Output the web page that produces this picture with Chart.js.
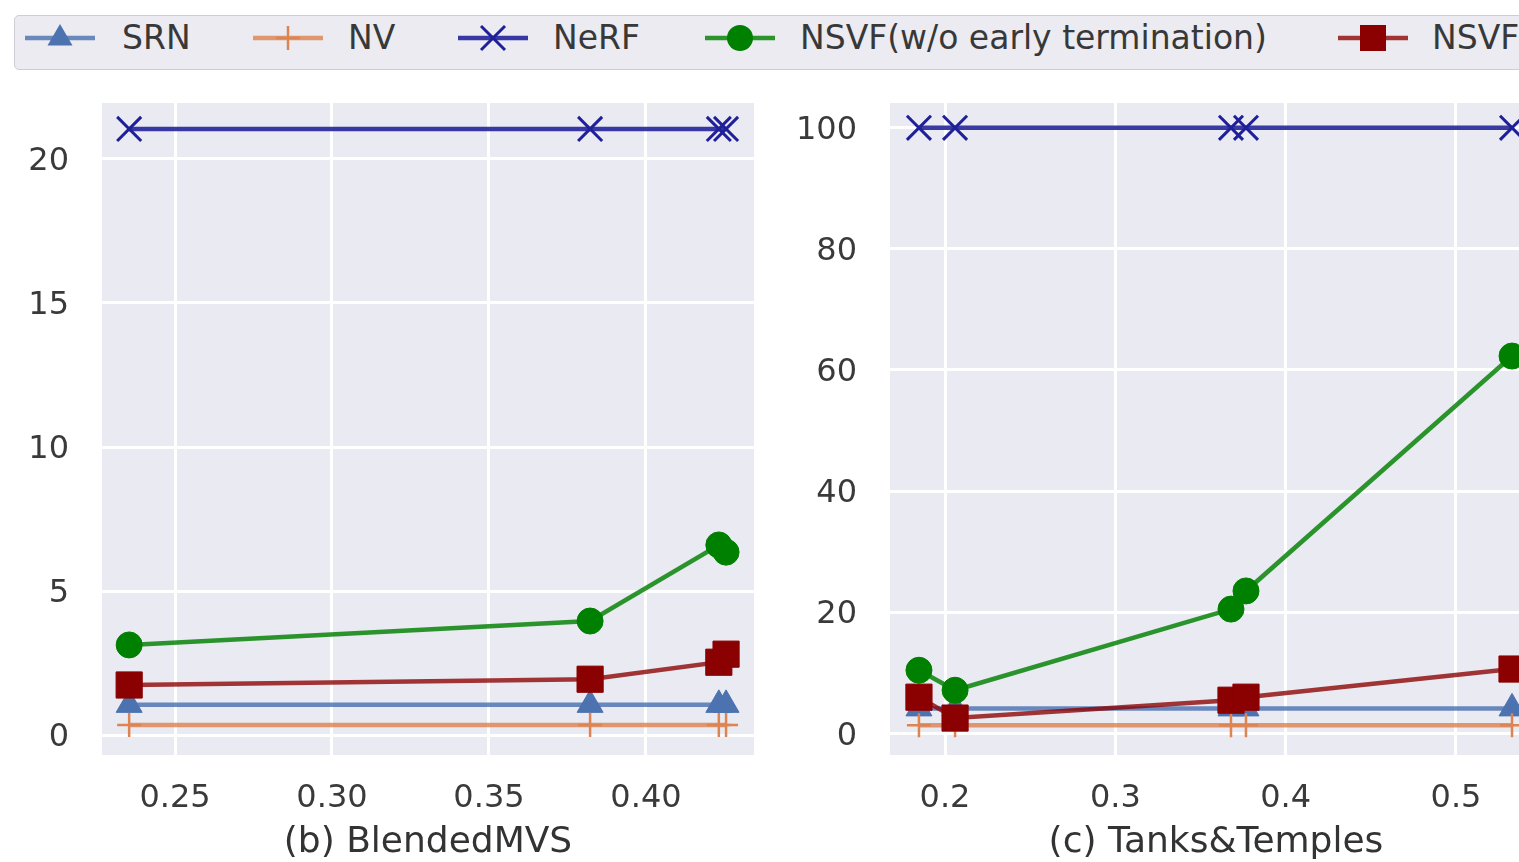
<!DOCTYPE html>
<html><head><meta charset="utf-8">
<script src="https://cdn.jsdelivr.net/npm/chart.js@4/dist/chart.umd.min.js"></script>
<style>
html,body{margin:0;padding:0;background:#fff;width:1519px;height:862px;overflow:hidden;position:relative;font-family:"DejaVu Sans",sans-serif;}
#legend{position:absolute;left:14px;top:15px;width:1560px;height:55px;background:#ebebf1;border:1.5px solid #cdcdd3;border-radius:5px;box-sizing:border-box;}
.sym{position:absolute;top:0;}
.lt{position:absolute;font-size:33px;color:#383838;line-height:44px;top:0;white-space:nowrap;}
canvas{position:absolute;}
#c1{left:0;top:80px;}
#c2{left:780px;top:80px;}
</style></head>
<body>
<div id="legend"></div>
<canvas id="c1" width="770" height="782"></canvas>
<canvas id="c2" width="780" height="782"></canvas>
<script>
// ---- data ----
const seriesNames = ["SRN", "NV", "NeRF", "NSVF(w/o early termination)", "NSVF"];

// (b) BlendedMVS
const blendedX = [0.2354, 0.3822, 0.4232, 0.4255];
const blendedSRN = [1.05, 1.05, 1.05, 1.05];
const blendedNV = [0.35, 0.35, 0.35, 0.35];
const blendedNeRF = [21.04, 21.04, 21.04, 21.04];
const blendedNSVFnoET = [3.13, 3.96, 6.6, 6.35];
const blendedNSVF = [1.74, 1.94, 2.53, 2.81];
const blendedXTicks = [0.25, 0.30, 0.35, 0.40];
const blendedYTicks = [0, 5, 10, 15, 20];

// (c) Tanks&Temples
const tanksX = [0.1847, 0.2059, 0.3679, 0.3767, 0.5329];
const tanksSRN = [4.1, 4.1, 4.1, 4.1, 4.1];
const tanksNV = [1.3, 1.3, 1.3, 1.3, 1.3];
const tanksNeRF = [100, 100, 100, 100, 100];
const tanksNSVFnoET = [10.4, 7.1, 20.5, 23.5, 62.3];
const tanksNSVF = [5.95, 2.5, 5.45, 5.95, 10.6];
const tanksXTicks = [0.2, 0.3, 0.4, 0.5];
const tanksYTicks = [0, 20, 40, 60, 80, 100];

// ---- styles ----
const styles = [
  {marker:'#4c72b0', line:'rgba(76,114,176,0.82)', point:'triangle', r:15, bw:1},
  {marker:'#dd8452', line:'rgba(221,132,82,0.82)', point:'cross', r:12, bw:2.5},
  {marker:'#1f1f99', line:'rgba(31,31,153,0.88)', point:'crossRot', r:17, bw:3},
  {marker:'#008000', line:'rgba(0,128,0,0.82)', point:'circle', r:13, bw:1},
  {marker:'#8b0000', line:'rgba(139,0,0,0.78)', point:'rect', r:18.5, bw:1}
];

// ---- legend ----
const legendLineX = [25, 253, 458, 705, 1338];
const legendTextX = [122, 348, 553, 800, 1432];
const lg = document.getElementById('legend');
function symSVG(i){
  const s = styles[i], c = s.marker, cx = 35, cy = 22;
  let m = '';
  if (i===0) m = `<polygon points="${cx},${cy-14} ${cx+12.5},${cy+7.5} ${cx-12.5},${cy+7.5}" fill="${c}"/>`;
  if (i===1) m = `<line x1="${cx-12}" y1="${cy}" x2="${cx+12}" y2="${cy}" stroke="${c}" stroke-width="2.5"/><line x1="${cx}" y1="${cy-12}" x2="${cx}" y2="${cy+12}" stroke="${c}" stroke-width="2.5"/>`;
  if (i===2) m = `<line x1="${cx-12}" y1="${cy-12}" x2="${cx+12}" y2="${cy+12}" stroke="${c}" stroke-width="3"/><line x1="${cx-12}" y1="${cy+12}" x2="${cx+12}" y2="${cy-12}" stroke="${c}" stroke-width="3"/>`;
  if (i===3) m = `<circle cx="${cx}" cy="${cy}" r="13" fill="${c}"/>`;
  if (i===4) m = `<rect x="${cx-13}" y="${cy-13}" width="26" height="26" fill="${c}"/>`;
  return `<svg width="70" height="50" style="overflow:visible"><line x1="0" y1="${cy}" x2="70" y2="${cy}" stroke="${s.line}" stroke-width="4.5"/>${m}</svg>`;
}
seriesNames.forEach((n,i)=>{
  const d = document.createElement('div'); d.className='sym';
  d.style.left = (legendLineX[i]-15)+'px'; d.style.top='-0.5px';
  d.innerHTML = symSVG(i); lg.appendChild(d);
  const t = document.createElement('div'); t.className='lt';
  t.style.left = (legendTextX[i]-15)+'px'; t.textContent = n; lg.appendChild(t);
});

// ---- charts ----
const bgPlugin = {
  id:'bg',
  beforeDraw(chart){
    const {ctx, chartArea:a} = chart;
    ctx.save(); ctx.fillStyle='#eaeaf2';
    ctx.fillRect(a.left, a.top, a.right-a.left, a.bottom-a.top);
    ctx.restore();
  }
};

function makeDatasets(xs, ys){
  return ys.map((vals,i)=>({
    label: seriesNames[i],
    data: xs.map((x,j)=>({x:x, y:vals[j]})),
    borderColor: styles[i].line,
    borderWidth: 4.5,
    pointStyle: styles[i].point,
    pointRadius: styles[i].r,
    pointBackgroundColor: styles[i].marker,
    pointBorderColor: styles[i].marker,
    pointBorderWidth: styles[i].bw,
    showLine: true,
    fill: false,
    tension: 0,
    order: 4 - i,
    clip: false
  }));
}

function zeroPad(s){ s.paddingTop = 0; s.paddingBottom = 0; s.paddingLeft = 0; s.paddingRight = 0; }

function makeChart(id, xs, ys, xTicks, yTicks, xr, yr, xDec, title, yAxisW, padRight){
  const xStep = xTicks[1]-xTicks[0], yStep = yTicks[1]-yTicks[0];
  return new Chart(document.getElementById(id), {
    type:'scatter',
    data:{datasets: makeDatasets(xs, ys)},
    plugins:[bgPlugin],
    options:{
      responsive:false, animation:false, devicePixelRatio:1,
      layout:{autoPadding:false, padding:{left:0, top:23, right:padRight, bottom:0}},
      plugins:{legend:{display:false}, tooltip:{enabled:false}},
      scales:{
        x:{
          type:'linear', min:xr[0], max:xr[1],
          border:{display:false},
          grid:{color:'#ffffff', lineWidth:3, drawTicks:false},
          ticks:{stepSize:xStep, includeBounds:false, padding:24, color:'#3a3a3a',
                 font:{family:'DejaVu Sans', size:32},
                 callback:(v)=>xTicks.some(t=>Math.abs(t-v)<1e-9)?Number(v).toFixed(xDec):''},
          title:{display:true, text:title, color:'#333', font:{family:'DejaVu Sans', size:36, lineHeight:1.1}, padding:{top:0,bottom:0}},
          afterFit(s){ s.height = 107; zeroPad(s); }
        },
        y:{
          type:'linear', min:yr[0], max:yr[1],
          border:{display:false},
          grid:{color:'#ffffff', lineWidth:3, drawTicks:false},
          ticks:{stepSize:yStep, includeBounds:false, padding:33, labelOffset:3, color:'#3a3a3a',
                 font:{family:'DejaVu Sans', size:32},
                 callback:(v)=>yTicks.some(t=>Math.abs(t-v)<1e-9)?String(v):''},
          afterFit(s){ s.width = yAxisW; zeroPad(s); }
        }
      }
    }
  });
}

makeChart('c1', blendedX, [blendedSRN, blendedNV, blendedNeRF, blendedNSVFnoET, blendedNSVF],
  blendedXTicks, blendedYTicks, [0.22675, 0.4344], [-0.69, 21.94], 2, '(b) BlendedMVS', 102, 16);
makeChart('c2', tanksX, [tanksSRN, tanksNV, tanksNeRF, tanksNSVFnoET, tanksNSVF],
  tanksXTicks, tanksYTicks, [0.1677, 0.5505], [-3.6, 104.1], 1, '(c) Tanks&Temples', 110, 18);
</script>
</body></html>
